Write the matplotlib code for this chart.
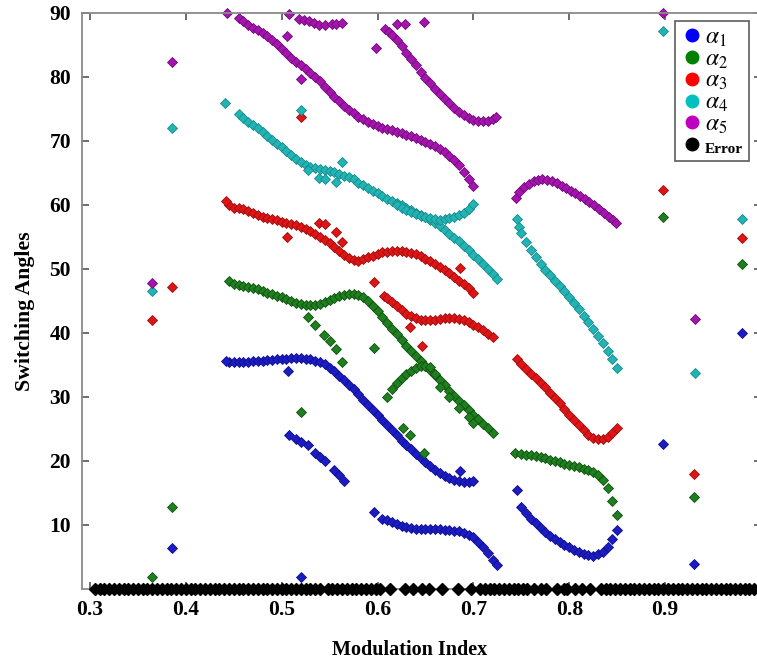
import matplotlib
matplotlib.use("Agg")
import matplotlib.pyplot as plt
from matplotlib.lines import Line2D

plt.rcParams['font.family'] = ['Liberation Serif', 'DejaVu Serif']
plt.rcParams['mathtext.fontset'] = 'stix'

# switching angles, one list per branch: (modulation index, angle)
a1_main = [(0.445, 35.5), (0.45, 35.4), (0.455, 35.4), (0.46, 35.5), (0.465, 35.5), (0.47, 35.6),
           (0.475, 35.6), (0.48, 35.7), (0.485, 35.8), (0.49, 35.8), (0.495, 35.9), (0.50, 36.0),
           (0.505, 36.0), (0.51, 36.1), (0.515, 36.1), (0.52, 36.1), (0.525, 36.0), (0.53, 35.9),
           (0.535, 35.7), (0.54, 35.4), (0.545, 35.1), (0.55, 34.6), (0.555, 34.0), (0.56, 33.3),
           (0.565, 32.6), (0.57, 31.9), (0.575, 31.2), (0.58, 30.4), (0.585, 29.6), (0.59, 28.8),
           (0.595, 28.0), (0.60, 27.2), (0.605, 26.4), (0.61, 25.6), (0.615, 24.8), (0.62, 24.0),
           (0.625, 23.2), (0.63, 22.5), (0.635, 21.8), (0.64, 21.1), (0.645, 20.4), (0.65, 19.8),
           (0.655, 19.2), (0.66, 18.6), (0.665, 18.1), (0.67, 17.7), (0.675, 17.3), (0.68, 17.0),
           (0.685, 16.8), (0.69, 16.7), (0.695, 16.7), (0.70, 16.8)]
a1_low = [(0.605, 11.0), (0.61, 10.8), (0.615, 10.5), (0.62, 10.2), (0.625, 9.9), (0.63, 9.7),
          (0.635, 9.5), (0.64, 9.4), (0.645, 9.3), (0.65, 9.3), (0.655, 9.3), (0.66, 9.3),
          (0.665, 9.3), (0.67, 9.2), (0.675, 9.2), (0.68, 9.1), (0.685, 9.0), (0.69, 8.8),
          (0.695, 8.5), (0.70, 8.1), (0.705, 7.4), (0.71, 6.5), (0.715, 5.6), (0.72, 4.6), (0.725, 3.8)]
a1_dots = [(0.508, 24.1), (0.515, 23.5), (0.52, 23.0), (0.527, 22.5), (0.535, 21.3), (0.54, 20.6),
           (0.545, 20.0), (0.555, 18.6), (0.56, 17.8), (0.565, 16.8)]
a1_right = [(0.75, 12.8), (0.755, 11.8), (0.76, 11.0), (0.765, 10.3), (0.77, 9.6), (0.775, 8.9),
            (0.78, 8.3), (0.785, 7.8), (0.79, 7.3), (0.795, 6.9), (0.80, 6.5), (0.805, 6.1),
            (0.81, 5.8), (0.815, 5.5), (0.82, 5.3), (0.825, 5.2), (0.83, 5.4), (0.835, 5.8),
            (0.84, 6.5), (0.845, 7.8), (0.85, 9.2)]
a1_iso = [(0.442, 35.7), (0.386, 6.4), (0.52, 1.8), (0.596, 12.0), (0.745, 15.5), (0.898, 22.6),
          (0.93, 3.9), (0.98, 40.0), (0.686, 18.4), (0.507, 34.1)]

a2_main = [(0.445, 48.2), (0.45, 47.6), (0.455, 47.5), (0.46, 47.4), (0.465, 47.2), (0.47, 47.0),
           (0.475, 46.8), (0.48, 46.6), (0.485, 46.3), (0.49, 46.1), (0.495, 45.8), (0.50, 45.6),
           (0.505, 45.3), (0.51, 45.0), (0.515, 44.7), (0.52, 44.5), (0.525, 44.3), (0.53, 44.3),
           (0.535, 44.4), (0.54, 44.6), (0.545, 44.9), (0.55, 45.2), (0.555, 45.5), (0.56, 45.8),
           (0.565, 46.0), (0.57, 46.1), (0.575, 46.1), (0.58, 45.9), (0.585, 45.6), (0.59, 45.0),
           (0.595, 44.2), (0.60, 43.4), (0.605, 42.5), (0.61, 41.6), (0.615, 40.7), (0.62, 39.8),
           (0.625, 38.9), (0.63, 38.0), (0.635, 37.2), (0.64, 36.4), (0.645, 35.6), (0.65, 34.9),
           (0.655, 34.2), (0.66, 33.4), (0.665, 32.6), (0.67, 31.8), (0.675, 31.0), (0.68, 30.2),
           (0.685, 29.4), (0.69, 28.7), (0.695, 28.0), (0.70, 27.2), (0.705, 26.5), (0.71, 25.8),
           (0.715, 25.1), (0.72, 24.4)]
a2_arch = [(0.61, 30.0), (0.615, 31.2), (0.62, 32.2), (0.625, 33.0), (0.63, 33.6), (0.635, 34.1),
           (0.64, 34.5), (0.645, 34.8), (0.65, 34.9), (0.655, 34.7), (0.66, 33.6), (0.665, 31.5),
           (0.675, 30.0), (0.685, 28.3), (0.695, 26.8), (0.70, 25.9)]
a2_dots = [(0.527, 42.5), (0.535, 41.2), (0.544, 39.7), (0.55, 38.7), (0.557, 37.5), (0.563, 35.4)]
a2_right = [(0.743, 21.3), (0.75, 21.1), (0.755, 21.0), (0.76, 20.9), (0.765, 20.8), (0.77, 20.6),
            (0.775, 20.4), (0.78, 20.2), (0.785, 20.0), (0.79, 19.8), (0.795, 19.6), (0.80, 19.4),
            (0.805, 19.2), (0.81, 19.0), (0.815, 18.8), (0.82, 18.6), (0.825, 18.3), (0.83, 17.8),
            (0.835, 17.0), (0.84, 15.8), (0.845, 13.8), (0.85, 11.6)]
a2_iso = [(0.386, 12.8), (0.365, 1.9), (0.596, 37.6), (0.52, 27.7), (0.627, 25.2), (0.634, 24.1),
          (0.648, 21.3), (0.898, 58.1), (0.93, 14.3), (0.98, 50.8)]

a3_main = [(0.445, 60.0), (0.45, 59.6), (0.455, 59.5), (0.46, 59.3), (0.465, 59.0), (0.47, 58.7),
           (0.475, 58.4), (0.48, 58.2), (0.485, 58.0), (0.49, 57.8), (0.495, 57.6), (0.50, 57.4),
           (0.505, 57.2), (0.51, 57.0), (0.515, 56.8), (0.52, 56.5), (0.525, 56.2), (0.53, 55.9),
           (0.535, 55.5), (0.54, 55.0), (0.545, 54.5), (0.55, 54.0), (0.555, 53.4), (0.56, 52.8),
           (0.565, 52.2), (0.57, 51.7), (0.575, 51.4), (0.58, 51.3), (0.585, 51.5), (0.59, 51.8),
           (0.595, 52.1), (0.60, 52.4), (0.605, 52.6), (0.61, 52.7), (0.615, 52.8), (0.62, 52.8),
           (0.625, 52.8), (0.63, 52.7), (0.635, 52.5), (0.64, 52.3), (0.645, 52.0), (0.65, 51.6),
           (0.655, 51.2), (0.66, 50.8), (0.665, 50.3), (0.67, 49.8), (0.675, 49.3), (0.68, 48.8),
           (0.685, 48.2), (0.69, 47.6), (0.695, 47.0), (0.70, 46.3)]
a3_second = [(0.607, 45.8), (0.61, 45.4), (0.615, 44.8), (0.62, 44.2), (0.625, 43.6), (0.63, 43.0),
             (0.635, 42.6), (0.64, 42.3), (0.645, 42.1), (0.65, 42.0), (0.655, 42.0), (0.66, 42.1),
             (0.665, 42.2), (0.67, 42.3), (0.675, 42.3), (0.68, 42.3), (0.685, 42.2), (0.69, 42.0),
             (0.695, 41.7), (0.70, 41.3), (0.705, 40.9), (0.71, 40.4), (0.715, 39.9), (0.72, 39.4)]
a3_dots = [(0.506, 55.0), (0.539, 57.2), (0.545, 57.0), (0.557, 55.8), (0.563, 54.2)]
a3_right = [(0.745, 36.0), (0.75, 35.2), (0.755, 34.4), (0.76, 33.6), (0.765, 32.9), (0.77, 32.2),
            (0.775, 31.5), (0.78, 30.7), (0.785, 29.9), (0.79, 29.0), (0.795, 28.1), (0.80, 27.2),
            (0.805, 26.4), (0.81, 25.6), (0.815, 24.8), (0.82, 24.1), (0.825, 23.6), (0.83, 23.4),
            (0.835, 23.5), (0.84, 23.8), (0.845, 24.4), (0.85, 25.2)]
a3_iso = [(0.442, 60.6), (0.365, 42.1), (0.386, 47.2), (0.52, 73.7), (0.596, 47.9), (0.634, 41.0),
          (0.646, 37.9), (0.686, 50.2), (0.898, 62.3), (0.93, 18.0), (0.98, 54.8)]

a4_main = [(0.455, 74.2), (0.46, 73.6), (0.465, 73.0), (0.47, 72.5), (0.475, 72.0), (0.48, 71.4),
           (0.485, 70.8), (0.49, 70.2), (0.495, 69.6), (0.50, 69.0), (0.505, 68.4), (0.51, 67.8),
           (0.515, 67.2), (0.52, 66.7), (0.525, 66.3), (0.53, 66.0), (0.535, 65.8), (0.54, 65.6),
           (0.545, 65.5), (0.55, 65.3), (0.555, 65.1), (0.56, 64.9), (0.565, 64.6), (0.57, 64.3),
           (0.575, 64.0), (0.58, 63.5), (0.585, 63.1), (0.59, 62.6), (0.595, 62.2), (0.60, 61.8),
           (0.605, 61.4), (0.61, 61.0), (0.615, 60.7), (0.62, 60.3), (0.625, 60.0), (0.63, 59.6),
           (0.635, 59.2), (0.64, 58.8), (0.645, 58.5), (0.65, 58.1), (0.655, 57.7), (0.66, 57.2),
           (0.665, 56.7), (0.67, 56.1), (0.675, 55.5), (0.68, 54.9), (0.685, 54.3), (0.69, 53.6),
           (0.695, 52.9), (0.70, 52.2), (0.705, 51.5), (0.71, 50.8), (0.715, 50.0), (0.72, 49.2),
           (0.725, 48.4)]
a4_hook = [(0.62, 60.0), (0.625, 59.6), (0.63, 59.2), (0.635, 58.9), (0.64, 58.6), (0.645, 58.3),
           (0.65, 58.1), (0.655, 57.9), (0.66, 57.8), (0.665, 57.7), (0.67, 57.8), (0.675, 57.9),
           (0.68, 58.1), (0.685, 58.4), (0.69, 58.8), (0.695, 59.4), (0.70, 60.2)]
a4_dots = [(0.527, 65.4), (0.539, 64.2), (0.545, 64.0), (0.557, 63.6), (0.563, 66.7)]
a4_right = [(0.745, 57.8), (0.748, 56.5), (0.75, 55.6), (0.755, 54.2), (0.76, 52.9), (0.765, 51.8),
            (0.77, 50.8), (0.775, 49.9), (0.78, 49.0), (0.785, 48.2), (0.79, 47.4), (0.795, 46.5),
            (0.80, 45.6), (0.805, 44.7), (0.81, 43.7), (0.815, 42.7), (0.82, 41.7), (0.825, 40.6),
            (0.83, 39.5), (0.835, 38.4), (0.84, 37.2), (0.845, 35.9), (0.85, 34.6)]
a4_iso = [(0.441, 76.0), (0.386, 72.0), (0.365, 46.6), (0.52, 74.9), (0.898, 87.2), (0.931, 33.8),
          (0.98, 57.8)]

a5_main = [(0.455, 89.2), (0.46, 88.7), (0.465, 88.2), (0.47, 87.7), (0.475, 87.3), (0.48, 86.9),
           (0.485, 86.4), (0.49, 85.8), (0.495, 85.1), (0.50, 84.4), (0.505, 83.7), (0.51, 83.0),
           (0.515, 82.4), (0.52, 81.8), (0.525, 81.2), (0.53, 80.6), (0.535, 80.0), (0.54, 79.3),
           (0.545, 78.5), (0.55, 77.7), (0.555, 76.9), (0.56, 76.2), (0.565, 75.5), (0.57, 74.9),
           (0.575, 74.3), (0.58, 73.8), (0.585, 73.4), (0.59, 73.0), (0.595, 72.7), (0.60, 72.4),
           (0.605, 72.1), (0.61, 71.9), (0.615, 71.7), (0.62, 71.4), (0.625, 71.2), (0.63, 71.0),
           (0.635, 70.8), (0.64, 70.5), (0.645, 70.2), (0.65, 69.9), (0.655, 69.6), (0.66, 69.2),
           (0.665, 68.8), (0.67, 68.3), (0.675, 67.7), (0.68, 67.0), (0.685, 66.2), (0.69, 65.2),
           (0.695, 64.0), (0.70, 62.9)]
a5_second = [(0.608, 87.5), (0.612, 87.0), (0.615, 86.6), (0.62, 85.8), (0.625, 84.8), (0.63, 83.8),
             (0.635, 82.8), (0.64, 81.8), (0.645, 80.8), (0.65, 79.9), (0.655, 79.0), (0.66, 78.2),
             (0.665, 77.4), (0.67, 76.6), (0.675, 75.9), (0.68, 75.2), (0.685, 74.6), (0.69, 74.0),
             (0.695, 73.6), (0.70, 73.3), (0.705, 73.1), (0.71, 73.1), (0.715, 73.2), (0.72, 73.4),
             (0.724, 73.8)]
a5_dots = [(0.443, 90.0), (0.508, 89.9), (0.518, 89.1), (0.523, 88.9), (0.528, 88.8), (0.534, 88.4),
           (0.539, 88.2), (0.545, 88.2), (0.552, 88.3), (0.557, 88.3), (0.563, 88.5), (0.62, 88.3),
           (0.629, 88.3), (0.648, 88.6)]
a5_right = [(0.744, 61.1), (0.748, 62.0), (0.753, 62.8), (0.758, 63.3), (0.763, 63.7), (0.767, 63.9),
            (0.772, 64.0), (0.777, 63.9), (0.782, 63.7), (0.787, 63.4), (0.792, 63.0), (0.797, 62.6),
            (0.802, 62.2), (0.806, 61.9), (0.811, 61.4), (0.816, 60.9), (0.821, 60.4), (0.826, 60.0),
            (0.831, 59.4), (0.836, 58.8), (0.841, 58.2), (0.846, 57.6), (0.849, 57.2)]
a5_iso = [(0.506, 86.4), (0.52, 79.7), (0.598, 84.6), (0.386, 82.4), (0.365, 47.8), (0.898, 90.0),
          (0.931, 42.2)]

# modulation indices where the solver returned an error (plotted at 0)
error_x = [0.305, 0.31, 0.315, 0.32, 0.325, 0.33, 0.335, 0.34, 0.345, 0.35, 0.355, 0.36, 0.365,
           0.37, 0.375, 0.38, 0.385, 0.39, 0.395, 0.40, 0.405, 0.41, 0.415, 0.42, 0.425, 0.43,
           0.435, 0.44, 0.445, 0.45, 0.455, 0.46, 0.465, 0.47, 0.475, 0.48, 0.485, 0.49, 0.495,
           0.50, 0.505, 0.51, 0.515, 0.52, 0.525, 0.53, 0.535,
           0.540, 0.548, 0.553, 0.558, 0.563, 0.568, 0.573, 0.578, 0.583, 0.588, 0.593, 0.598,
           0.603, 0.613, 0.629, 0.637, 0.646, 0.654, 0.667, 0.684, 0.698,
           0.707, 0.712, 0.717, 0.722, 0.727, 0.732, 0.737, 0.742, 0.747, 0.752, 0.756,
           0.763, 0.770, 0.776, 0.787, 0.794, 0.798, 0.806, 0.813, 0.822,
           0.833, 0.838, 0.843, 0.848, 0.853, 0.858, 0.863, 0.868, 0.873, 0.878, 0.883, 0.888,
           0.893, 0.898, 0.903, 0.908, 0.913, 0.918, 0.923, 0.928, 0.933, 0.938, 0.943, 0.948,
           0.953, 0.958, 0.963, 0.968, 0.973, 0.978, 0.983, 0.988, 0.993, 0.998]

series = [
    (a1_main + a1_low + a1_dots + a1_right + a1_iso, '#1c1cc4', '#10108a', r'$\alpha_1$', '#0000ff'),
    (a2_main + a2_arch + a2_dots + a2_right + a2_iso, '#1f7f1f', '#0f4f0f', r'$\alpha_2$', '#008000'),
    (a3_main + a3_second + a3_dots + a3_right + a3_iso, '#e01414', '#9a1010', r'$\alpha_3$', '#ff0000'),
    (a4_main + a4_hook + a4_dots + a4_right + a4_iso, '#22b4b4', '#178a8a', r'$\alpha_4$', '#00c0c0'),
    (a5_main + a5_second + a5_dots + a5_right + a5_iso, '#a614b0', '#6c0c76', r'$\alpha_5$', '#c000c0'),
]

fig = plt.figure(figsize=(7.57, 6.62), dpi=100)
ax = fig.add_axes([82 / 757, 1 - 589 / 662, 679 / 757, 576 / 662])

for pts, face, edge, lab, leg_col in series:
    xs = [p[0] for p in pts]
    ys = [p[1] for p in pts]
    ax.plot(xs, ys, linestyle='none', marker='D', markersize=5.4,
            markerfacecolor=face, markeredgecolor=edge, markeredgewidth=0.6, clip_on=False)

ax.plot(error_x, [0] * len(error_x), linestyle='none', marker='D', markersize=6.5,
        markerfacecolor='black', markeredgecolor='black', clip_on=False, zorder=5)

ax.set_xlim(0.2917, 1.0)
ax.set_ylim(0, 90)
ax.set_xticks([0.3, 0.4, 0.5, 0.6, 0.7, 0.8, 0.9, 1.0])
ax.set_xticklabels(['0.3', '0.4', '0.5', '0.6', '0.7', '0.8', '0.9', '1'])
ax.set_yticks([10, 20, 30, 40, 50, 60, 70, 80, 90])

for s in ax.spines.values():
    s.set_color('#8a8a8a')
    s.set_linewidth(1.3)
ax.tick_params(direction='in', length=5, width=1.2, color='#555555',
               top=True, right=True, labelsize=15.5, pad=8)
for t in ax.get_xticklabels() + ax.get_yticklabels():
    t.set_fontweight('bold')

ax.set_xlabel('Modulation Index', fontsize=14.5, fontweight='bold')
ax.set_ylabel('Switching Angles', fontsize=15.7, fontweight='bold')
ax.xaxis.set_label_coords((410 - 82) / 679, -0.088)
ax.yaxis.set_label_coords(-0.069, (589 - 311) / 576)

handles = [Line2D([], [], linestyle='none', marker='o', markersize=9,
                  markerfacecolor=c[4], markeredgecolor=c[4]) for c in series]
handles.append(Line2D([], [], linestyle='none', marker='o', markersize=9,
                      markerfacecolor='black', markeredgecolor='black'))
labels = [c[3] for c in series] + ['Error']
leg = fig.legend(handles, labels, loc='upper right', bbox_to_anchor=(749 / 757, 1 - 21 / 662),
                 frameon=True, fancybox=False, fontsize=17, handletextpad=0.1,
                 handlelength=0.9, labelspacing=0.0, borderpad=0.25, borderaxespad=0)
leg.get_frame().set_edgecolor('#333333')
leg.get_frame().set_linewidth(1.2)
leg.get_texts()[-1].set_fontsize(11)
leg.get_texts()[-1].set_fontweight('bold')

fig.savefig('out.png', dpi=100)
